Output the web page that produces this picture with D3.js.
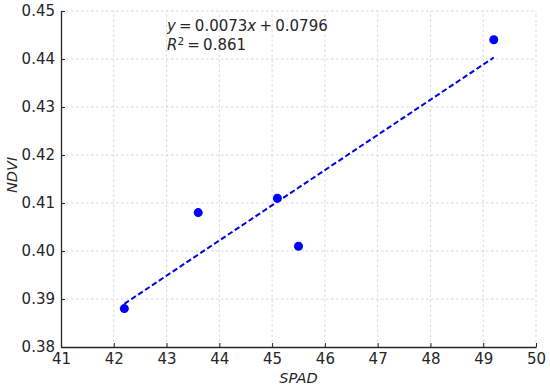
<!DOCTYPE html>
<html>
<head>
<meta charset="utf-8">
<script src="https://cdn.jsdelivr.net/npm/d3@7"></script>
<style>
  html, body { margin: 0; padding: 0; background: #fff; }
  .chart { width: 550px; height: 389px; }
  text { font-family: "DejaVu Sans", sans-serif; fill: #262626; }
</style>
</head>
<body>
<div class="chart"></div>
<script>
const spad = [42.2, 43.6, 45.1, 45.5, 49.2];
const ndvi = [0.388, 0.408, 0.411, 0.401, 0.444];
const xTicks = [41, 42, 43, 44, 45, 46, 47, 48, 49, 50];
const yTicks = [0.38, 0.39, 0.40, 0.41, 0.42, 0.43, 0.44, 0.45];
const eqSlope = '0.0073';
const eqIntercept = '0.0796';
const r2Value = '0.861';

function visualize() {
  const width = 550, height = 389;
  const margins = { left: 61, right: 14, top: 11, bottom: 42 };
  const gap = 3.2;

  const svg = d3.select('.chart')
    .append('svg')
    .attr('width', width)
    .attr('height', height);

  const xScale = d3.scaleLinear()
    .domain([41, 50])
    .range([margins.left, width - margins.right]);

  const yScale = d3.scaleLinear()
    .domain([0.38, 0.45])
    .range([height - margins.bottom, margins.top]);

  // grid
  const grid = svg.append('g').attr('class', 'grid');
  grid.selectAll('.vgrid')
    .data(xTicks.slice(1))
    .enter()
    .append('line')
    .attr('x1', d => xScale(d)).attr('x2', d => xScale(d))
    .attr('y1', yScale(0.38)).attr('y2', yScale(0.45))
    .style('stroke', '#cfcfcf')
    .style('stroke-width', 0.8)
    .style('stroke-dasharray', '2.5,2.5');
  grid.selectAll('.hgrid')
    .data(yTicks.slice(1))
    .enter()
    .append('line')
    .attr('x1', xScale(41)).attr('x2', xScale(50))
    .attr('y1', d => yScale(d)).attr('y2', d => yScale(d))
    .style('stroke', '#cfcfcf')
    .style('stroke-width', 0.8)
    .style('stroke-dasharray', '2.5,2.5');

  // axes
  const xAxis = d3.axisBottom(xScale)
    .tickValues(xTicks)
    .tickFormat(d3.format('d'))
    .tickSizeInner(-4)
    .tickSizeOuter(0)
    .tickPadding(6);

  const yAxis = d3.axisLeft(yScale)
    .tickValues(yTicks)
    .tickFormat(d3.format('.2f'))
    .tickSizeInner(-4)
    .tickSizeOuter(0)
    .tickPadding(6);

  const gx = svg.append('g')
    .attr('transform', `translate(0, ${yScale(0.38)})`)
    .call(xAxis);
  const gy = svg.append('g')
    .attr('transform', `translate(${xScale(41)}, 0)`)
    .call(yAxis);

  [gx, gy].forEach(g => {
    g.select('.domain').style('stroke', '#262626').style('stroke-width', 1.3);
    g.selectAll('.tick line').style('stroke', '#262626').style('stroke-width', 1);
    g.selectAll('.tick text')
      .style('font-family', '"DejaVu Sans", sans-serif')
      .style('font-size', '15px')
      .style('fill', '#262626');
  });

  svg.append('text')
    .attr('x', (xScale(41) + xScale(50)) / 2)
    .attr('y', 383)
    .attr('text-anchor', 'middle')
    .style('font-size', '14.5px')
    .style('font-style', 'italic')
    .text('SPAD');

  svg.append('text')
    .attr('transform', 'rotate(-90)')
    .attr('x', -175)
    .attr('y', 17)
    .attr('text-anchor', 'middle')
    .style('font-size', '14.5px')
    .style('font-style', 'italic')
    .text('NDVI');

  // least-squares fit line
  const mx = d3.mean(spad), my = d3.mean(ndvi);
  const sxy = d3.sum(spad.map((x, i) => (x - mx) * (ndvi[i] - my)));
  const sxx = d3.sum(spad.map(x => (x - mx) * (x - mx)));
  const slope = sxy / sxx;
  const intercept = my - slope * mx;
  const xExt = d3.extent(spad);

  svg.append('line')
    .attr('x1', xScale(xExt[0])).attr('y1', yScale(slope * xExt[0] + intercept))
    .attr('x2', xScale(xExt[1])).attr('y2', yScale(slope * xExt[1] + intercept))
    .style('stroke', '#0000e6')
    .style('stroke-width', 2)
    .style('stroke-dasharray', '5.5,2.8');

  // points
  svg.selectAll('.plot-point')
    .data(spad)
    .enter()
    .append('circle')
    .classed('plot-point', true)
    .attr('cx', d => xScale(d))
    .attr('cy', (d, i) => yScale(ndvi[i]))
    .attr('r', 4.5)
    .style('fill', '#0000ff');

  // annotation
  const eq = svg.append('text')
    .attr('x', 167)
    .attr('y', 31)
    .style('font-size', '15px');
  eq.append('tspan').style('font-style', 'italic').text('y');
  eq.append('tspan').attr('dx', gap).text('=');
  eq.append('tspan').attr('dx', gap).text(eqSlope);
  eq.append('tspan').style('font-style', 'italic').text('x');
  eq.append('tspan').attr('dx', gap).text('+');
  eq.append('tspan').attr('dx', gap).text(eqIntercept);

  const r2 = svg.append('text')
    .attr('x', 167)
    .attr('y', 50)
    .style('font-size', '15px');
  r2.append('tspan').style('font-style', 'italic').text('R');
  r2.append('tspan').attr('dy', -5).style('font-size', '10.5px').text('2');
  r2.append('tspan').attr('dy', 5).attr('dx', gap).text('=');
  r2.append('tspan').attr('dx', gap).text(r2Value);
}
visualize();
</script>
</body>
</html>
